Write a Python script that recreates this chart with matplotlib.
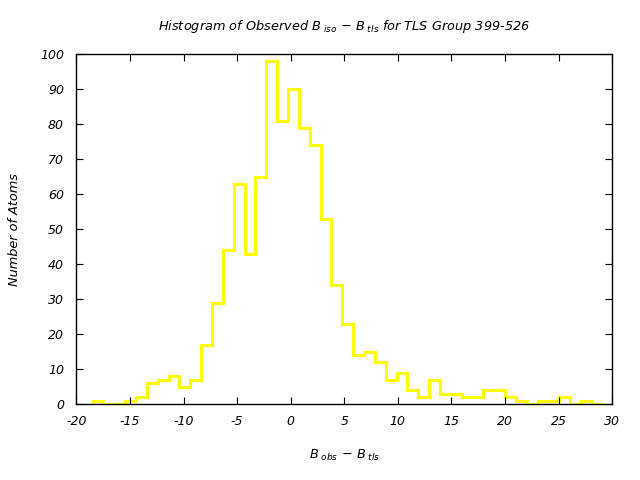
import matplotlib
matplotlib.use("Agg")
import matplotlib.pyplot as plt
import numpy as np

plt.rcParams['axes.unicode_minus'] = False
plt.rcParams['mathtext.fontset'] = 'custom'
plt.rcParams['mathtext.rm'] = 'DejaVu Sans:italic'
plt.rcParams['mathtext.it'] = 'DejaVu Sans:italic'
plt.rcParams['font.family'] = 'DejaVu Sans'
plt.rcParams['font.style'] = 'italic'

# histogram bins
bin_lo = -18.5
bin_hi = 29.13
counts = [1, 0, 0, 1, 2, 6, 7, 8, 5, 7, 17, 29, 44, 63, 43, 65, 98, 81, 90, 79,
          74, 53, 34, 23, 14, 15, 12, 7, 9, 4, 2, 7, 3, 3, 2, 2, 4, 4, 2, 1,
          0, 1, 1, 2, 0, 1, 0]
x_ticks = list(range(-20, 31, 5))
y_ticks = list(range(0, 101, 10))

edges = np.linspace(bin_lo, bin_hi, len(counts) + 1)

fig = plt.figure(figsize=(6.4, 4.8), dpi=100)
ax = fig.add_axes([0.1195, 0.158, 0.837, 0.7295])
ax.stairs(counts, edges, baseline=0, color='#ffff00', linewidth=2.2)

ax.set_xlim(-20, 30)
ax.set_ylim(0, 100)
ax.set_xticks(x_ticks)
ax.set_yticks(y_ticks)
ax.tick_params(direction='in', top=True, right=True, length=5, labelsize=9)
ax.tick_params(axis='x', pad=8)
ax.tick_params(axis='y', pad=9)
for s in ax.spines.values():
    s.set_linewidth(1)

ax.set_title(r"Histogram of Observed $B_{\ iso}$ $-$ $B_{\ tls}$ for TLS Group 399-526",
             fontsize=9.3, pad=17)
ax.set_xlabel(r"$B_{\ obs}$ $-$ $B_{\ tls}$", fontsize=9.3, labelpad=14)
ax.set_ylabel("Number of Atoms", fontsize=9.3, labelpad=14)

plt.savefig("out.png", dpi=100)
